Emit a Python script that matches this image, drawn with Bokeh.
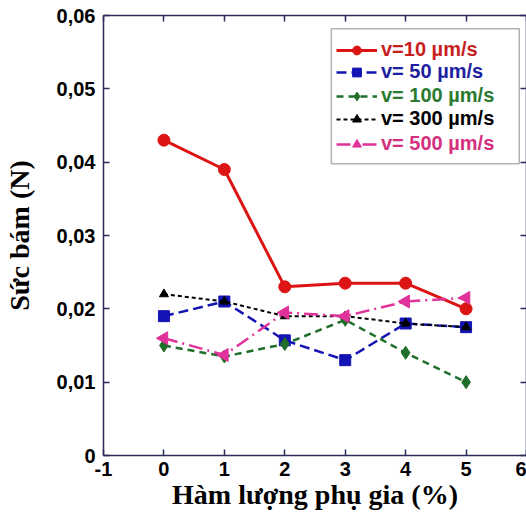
import math
from bokeh.plotting import figure
from bokeh.models import (Range1d, FixedTicker, LinearAxis, Legend, LegendItem, BoxAnnotation)
from bokeh.embed import file_html
from bokeh.resources import INLINE

# ---- data ----
x_vals = [0, 1, 2, 3, 4, 5]
v10 = [0.043, 0.039, 0.023, 0.0235, 0.0235, 0.020]
v50 = [0.019, 0.021, 0.0157, 0.013, 0.018, 0.0175]
v100 = [0.015, 0.0135, 0.0152, 0.0185, 0.014, 0.010]
v300 = [0.022, 0.021, 0.019, 0.019, 0.018, 0.0175]
v500 = [0.016, 0.0137, 0.0195, 0.019, 0.021, 0.0215]

series_labels = ["v=10 µm/s", "v= 50 µm/s", "v= 100 µm/s", "v= 300 µm/s", "v= 500 µm/s"]

x_ticks = [-1, 0, 1, 2, 3, 4, 5, 6]
x_tick_labels = ["-1", "0", "1", "2", "3", "4", "5", "6"]
y_ticks = [0, 0.01, 0.02, 0.03, 0.04, 0.05, 0.06]
y_tick_labels = ["0", "0,01", "0,02", "0,03", "0,04", "0,05", "0,06"]

x_title = "Hàm lượng phụ gia (%)"
y_title = "Sức bám (N)"

AXIS_COL = "#2b2b5c"

p = figure(width=526, height=519, output_backend="svg", toolbar_location=None,
           x_range=Range1d(-1, 6), y_range=Range1d(0, 0.06),
           min_border_left=102, min_border_right=0, min_border_top=15, min_border_bottom=64,
           x_axis_label=x_title, y_axis_label=y_title)
p.outline_line_color = None
p.grid.visible = False

def style_axis(ax, show_labels=True):
    ax.axis_line_color = AXIS_COL
    ax.axis_line_width = 1.5
    ax.major_tick_line_color = AXIS_COL
    ax.major_tick_line_width = 1.5
    ax.major_tick_in = 6
    ax.major_tick_out = 0
    ax.minor_tick_line_color = None
    if show_labels:
        ax.major_label_text_font = "Liberation Sans"
        ax.major_label_text_font_style = "bold"
        ax.major_label_text_font_size = "20px"
        ax.major_label_text_color = "black"
        ax.axis_label_text_font = "Liberation Serif"
        ax.axis_label_text_font_style = "bold"
        ax.axis_label_text_color = "black"
        ax.axis_label_text_font_size = "28px"
    else:
        ax.major_label_standoff = 0

xa = p.xaxis[0]
ya = p.yaxis[0]
xa.ticker = FixedTicker(ticks=x_ticks)
ya.ticker = FixedTicker(ticks=y_ticks)
xa.major_label_overrides = {t: l for t, l in zip(x_ticks, x_tick_labels)}
ya.major_label_overrides = {t: l for t, l in zip(y_ticks, y_tick_labels)}
style_axis(xa)
style_axis(ya)
xa.major_label_standoff = 6
ya.major_label_standoff = 8
xa.axis_label_standoff = 0
ya.axis_label_standoff = 19

ax_top = LinearAxis(ticker=FixedTicker(ticks=x_ticks))
ax_right = LinearAxis(ticker=FixedTicker(ticks=y_ticks))
ax_top.major_label_overrides = {t: "" for t in x_ticks}
ax_right.major_label_overrides = {t: "" for t in y_ticks}
style_axis(ax_top, False)
style_axis(ax_right, False)
p.add_layout(ax_top, "above")
p.add_layout(ax_right, "right")

# ---- series ----
specs = [
    (v10, "#dd1414", 3, "solid", "circle", 12, 0.0),
    (v50, "#1414b4", 2.5, "10 5", "square", 11, 0.0),
    (v100, "#1f6e2a", 2.5, "7 5", "diamond", 13, 0.0),
    (v300, "black", 2, "4 3", "triangle", 9, 0.0),
    (v500, "#e0329a", 2.5, "14 5 2 5", "triangle", 13, math.pi / 2),
]
text_cols = ["#c81e1e", "#1e1ea0", "#2a7a30", "black", "#d4307e"]

rend_pairs = []
for ys, col, lw, dash, marker, size, ang in specs:
    ln = p.line(x_vals, ys, line_color=col, line_width=lw, line_dash=dash)
    sc = p.scatter(x_vals, ys, marker=marker, size=size, fill_color=col, line_color=col, angle=ang)
    rend_pairs.append((ln, sc))

# legend box
box = BoxAnnotation(left=2.77, right=5.88, bottom=0.0398, top=0.0582,
                    fill_color="white", fill_alpha=1, line_color="black", line_width=1.5)
p.add_layout(box)

row_bottoms = [394, 372, 348, 325, 300]
for (ln, sc), lab, tc, yb in zip(rend_pairs, series_labels, text_cols, row_bottoms):
    lg = Legend(items=[LegendItem(label=lab, renderers=[ln, sc])],
                location=(233, yb), padding=0, margin=0, spacing=0,
                glyph_width=41, glyph_height=22, label_height=22, label_standoff=4,
                label_text_font="Liberation Sans", label_text_font_style="bold",
                label_text_font_size="20px", label_text_color=tc,
                background_fill_alpha=0, border_line_alpha=0)
    p.add_layout(lg)

open("out.html", "w").write(file_html(p, INLINE))
